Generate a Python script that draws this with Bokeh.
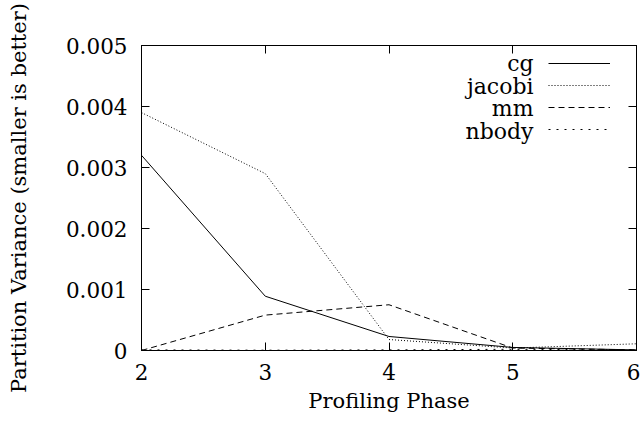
from bokeh.plotting import figure
from bokeh.models import LinearAxis, Range1d, FixedTicker, Legend, LegendItem, Label
from bokeh.embed import file_html
from bokeh.resources import INLINE

phases = [2, 3, 4, 5, 6]
cg = [0.0032, 0.00089, 0.00023, 0.00005, 0.00001]
jacobi = [0.0039, 0.0029, 0.00018, 0.00004, 0.00011]
mm = [0.0, 0.00058, 0.00075, 0.00004, 0.00001]
nbody = [0.00001, 0.000005, 0.00001, 0.00002, 0.00001]

names = ["cg", "jacobi", "mm", "nbody"]
dashes = ["solid", "1 2", "6 4", "2 6"]
values = [cg, jacobi, mm, nbody]
yticks = [0, 0.001, 0.002, 0.003, 0.004, 0.005]
xticks = [2, 3, 4, 5, 6]
# legend text anchor positions (data coordinates, right-aligned like gnuplot's key)
key_x = 5.168
key_y = [0.0047, 0.00433, 0.00397, 0.00359]

FONT = "DejaVu Serif"

p = figure(width=640, height=420, output_backend="svg", toolbar_location=None,
           x_range=Range1d(2, 6), y_range=Range1d(0, 0.005),
           min_border_left=141, min_border_right=4, min_border_top=45, min_border_bottom=70)
p.xgrid.visible = False
p.ygrid.visible = False
p.outline_line_color = "black"
p.outline_line_width = 1
p.background_fill_color = "white"
p.border_fill_color = "white"

items = []
for name, vals, dash in zip(names, values, dashes):
    r = p.line(phases, vals, line_color="black", line_width=1, line_dash=dash)
    items.append(LegendItem(label=" ", renderers=[r]))

legend = Legend(items=items, location=(407, 210), background_fill_alpha=0, border_line_alpha=0,
                label_text_font_size="1px", glyph_width=62, glyph_height=22,
                label_height=22, label_width=1, spacing=0, padding=0, margin=0, label_standoff=0)
p.add_layout(legend)

for name, ky in zip(names, key_y):
    p.add_layout(Label(x=key_x, y=ky, text=name, text_align="right", text_baseline="middle",
                       text_font=FONT, text_font_size="22px", text_color="black"))

def style(ax, labels=True):
    ax.axis_line_color = "black"
    ax.major_tick_line_color = "black"
    ax.major_tick_in = 8
    ax.major_tick_out = 0
    ax.minor_tick_line_color = None
    ax.major_label_text_font = FONT
    ax.major_label_text_font_size = "21.5px"
    ax.major_label_text_color = "black"
    ax.axis_label_text_font = FONT
    ax.axis_label_text_font_size = "21px"
    ax.axis_label_text_font_style = "normal"
    ax.axis_label_text_color = "black"
    if not labels:
        ax.major_label_text_font_size = "0px"
        ax.major_label_text_alpha = 0

p.xaxis.ticker = FixedTicker(ticks=xticks)
p.yaxis.ticker = FixedTicker(ticks=yticks)
style(p.xaxis[0])
style(p.yaxis[0])
p.xaxis.axis_label = "Profiling Phase"
p.yaxis.axis_label = "Partition Variance (smaller is better)"
p.xaxis.major_label_standoff = 13
p.xaxis.axis_label_standoff = 6
p.yaxis.major_label_standoff = 14
p.yaxis.axis_label_standoff = 32
p.yaxis.major_label_overrides = {0: "0", 0.001: "0.001", 0.002: "0.002", 0.003: "0.003", 0.004: "0.004", 0.005: "0.005"}

top = LinearAxis(ticker=FixedTicker(ticks=xticks))
style(top, labels=False)
right = LinearAxis(ticker=FixedTicker(ticks=yticks))
style(right, labels=False)
p.add_layout(top, "above")
p.add_layout(right, "right")

open("out.html", "w").write(file_html(p, INLINE))
